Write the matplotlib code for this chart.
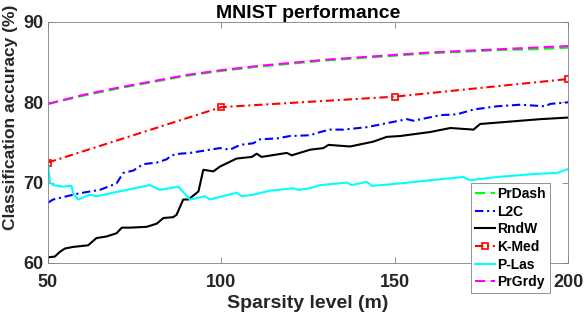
import matplotlib
matplotlib.use('Agg')
import matplotlib.pyplot as plt

plt.rcParams['font.family'] = ['Liberation Sans', 'DejaVu Sans']
plt.rcParams['font.weight'] = 'bold'

# sparsity levels and accuracies
pr_m = [50, 60, 70, 80, 90, 100, 110, 120, 130, 140, 150, 160, 170, 180, 190, 200]
prgrdy = [79.8, 80.9, 81.8, 82.6, 83.4, 84.0, 84.5, 84.9, 85.3, 85.6, 85.9, 86.2, 86.4, 86.6, 86.8, 87.0]
prdash = [79.8, 80.8, 81.7, 82.5, 83.3, 83.9, 84.4, 84.8, 85.2, 85.5, 85.8, 86.1, 86.3, 86.5, 86.6, 86.8]

kmed_m = [50, 100, 150, 200]
kmed = [72.5, 79.4, 80.7, 82.9]

l2c_m = [50, 51.5, 55.4, 58.3, 62.1, 65, 69.8, 71.7, 74.6, 77.5, 81.4, 84.2, 85.7, 88.1, 91,
         96.7, 99.6, 102.5, 105.4, 109.2, 111.2, 116, 119.8, 125.6, 128.5, 131.3, 135.2, 141.9,
         147.7, 153.5, 155.4, 163.1, 167.9, 172.7, 179.4, 186.2, 193.4, 194.8, 200]
l2c = [67.5, 67.9, 68.3, 68.6, 68.9, 69.1, 69.9, 71.2, 71.5, 72.3, 72.5, 72.9, 73.4, 73.6, 73.7,
       74.1, 74.3, 74.1, 74.7, 74.9, 75.4, 75.5, 75.8, 75.9, 76.3, 76.6, 76.6, 76.9,
       77.4, 77.9, 77.7, 78.4, 78.5, 79.1, 79.5, 79.7, 79.5, 79.8, 80.0]

rndw_m = [50, 52, 53.5, 54.9, 57.3, 61.6, 64, 66.9, 69.8, 71.3, 73.7, 78.5, 81.4, 83.3, 86.1,
          87.1, 89, 90.5, 93.4, 94.8, 97.7, 99.6, 104.4, 108.8, 110.2, 111.6, 118.9, 120.3,
          125.6, 129.4, 130.9, 137.1, 143.8, 147.7, 151.5, 160.2, 166, 172.7, 174.6, 183.3,
          191.9, 200]
rndw = [60.7, 60.8, 61.4, 61.8, 62.0, 62.2, 63.1, 63.3, 63.7, 64.4, 64.4, 64.5, 64.9, 65.6, 65.7,
        66.0, 67.9, 67.9, 68.9, 71.6, 71.4, 72.0, 73.0, 73.2, 73.6, 73.2, 73.7, 73.4,
        74.1, 74.3, 74.7, 74.5, 75.1, 75.7, 75.8, 76.3, 76.8, 76.6, 77.3, 77.6,
        77.9, 78.1]

plas_m = [50, 50.6, 51.5, 54.4, 56.8, 57.3, 58.7, 62.1, 64, 72.7, 79.4, 82.3, 87.6, 91,
          95.3, 96.7, 104.4, 105.9, 109.2, 114, 120.7, 122.2, 125.6, 128.5, 136.2, 137.6,
          141.9, 143.4, 151.5, 160.2, 169.8, 171.7, 179.4, 191, 196.7, 200]
plas = [72.5, 70.1, 69.7, 69.5, 69.6, 68.7, 67.9, 68.5, 68.3, 69.1, 69.7, 69.1, 69.5, 67.9,
        68.3, 67.9, 68.75, 68.3, 68.5, 69.0, 69.3, 69.1, 69.3, 69.7, 70.0, 69.7,
        70.1, 69.6, 69.9, 70.3, 70.7, 70.3, 70.7, 71.1, 71.2, 71.7]

fig = plt.figure(figsize=(5.84, 3.18), dpi=100)
ax = fig.add_axes([0.082, 0.173, 0.891, 0.758])

lw = 1.5
dash = (5, 2.5)
dashdot = (4, 1.8, 1, 1.8)
ax.plot(pr_m, prdash, color='#00ff00', lw=lw, dashes=dash, label='PrDash')
ax.plot(l2c_m, l2c, color='#0000ff', lw=lw, dashes=dashdot, label='L2C')
ax.plot(rndw_m, rndw, '-', color='black', lw=lw, label='RndW')
ax.plot(kmed_m, kmed, color='#ff0000', lw=lw, dashes=dashdot, marker='s', ms=5,
        mfc='none', mec='#ff0000', mew=1.2, label='K-Med')
ax.plot(plas_m, plas, '-', color='#00ffff', lw=lw, label='P-Las')
ax.plot(pr_m, prgrdy, color='#ff00ff', lw=lw, dashes=dash, label='PrGrdy')

ax.set_xlim(50, 200)
ax.set_ylim(60, 90)
ax.set_xticks([50, 100, 150, 200])
ax.set_yticks([60, 70, 80, 90])
ax.tick_params(direction='in', length=4, width=0.6, color='#808080',
               labelsize=13, top=True, right=True)
ax.tick_params(axis='x', pad=8)
ax.tick_params(axis='y', pad=3)
for lab in ax.get_xticklabels() + ax.get_yticklabels():
    lab.set_fontweight('bold')
    lab.set_color('#262626')
for s in ax.spines.values():
    s.set_color('#808080')
    s.set_linewidth(0.6)

ax.set_xlabel('Sparsity level (m)', fontsize=14, fontweight='bold', color='#262626', labelpad=3)
ax.set_ylabel('Classification accuracy (%)', fontsize=12.5, fontweight='bold', color='#262626')
ax.yaxis.set_label_coords(-0.058, 0.604)
ax.set_title('MNIST performance', fontsize=14, fontweight='bold', pad=3)

leg = ax.legend(loc='upper left', bbox_to_anchor=(0.813, 0.332),
                handlelength=1.45, handletextpad=0.15, labelspacing=0.26,
                borderpad=0.3, borderaxespad=0, fancybox=False, framealpha=1,
                edgecolor='#808080', prop={'weight': 'bold', 'size': 10})
leg.get_frame().set_linewidth(0.6)

fig.savefig('out.png', dpi=100)
